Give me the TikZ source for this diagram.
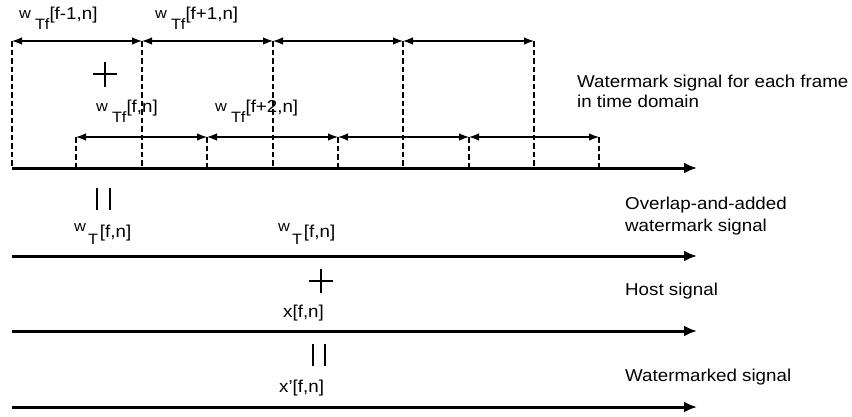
\documentclass[tikz,border=0pt]{standalone}
\usepackage{fontspec}
\setmainfont{Liberation Sans}[FakeStretch=1.09]
\usetikzlibrary{arrows.meta}
\newcommand\wlab[2]{{\fontsize{15}{15}\selectfont w\kern4pt\raisebox{-11pt}{#1}}\raisebox{-1.5pt}{[#2]}}
\newcommand\wTlab[1]{{\fontsize{15}{15}\selectfont w\kern2pt\raisebox{-13pt}{T}}\kern2pt\raisebox{-6pt}{[#1]}}
\begin{document}
\begin{tikzpicture}[x=1pt,y=-1pt,
  dim/.style={line width=1.2pt, {Latex[length=10pt,width=7.5pt]}-{Latex[length=10pt,width=7.5pt]}},
  tick/.style={line width=1.1pt, dash pattern=on 5.5pt off 3pt},
  axis/.style={line width=3pt, -{Latex[length=13pt,width=11pt]}},
  lbl/.style={inner sep=0pt, anchor=base west, font=\fontsize{17.2}{20}\selectfont},
  sym/.style={line width=2.7pt}]
\useasboundingbox (0,0) rectangle (852,416);
% axes
\foreach \n/\y in {1/168,2/256,3/331,4/407}{
  \coordinate (s\n) at (12,\y);
  \coordinate (e\n) at (697,\y);
}
% top row ticks
\foreach \i/\x in {0/12,1/142,2/273,3/403,4/534}{
  \coordinate (a\i) at (\x,41);
  \coordinate (ab\i) at (\x,168);
  \draw[tick] (a\i) -- (ab\i);
}
% second row ticks
\foreach \i/\x in {0/76,1/207,2/338,3/469,4/599}{
  \coordinate (b\i) at (\x,137);
  \coordinate (bb\i) at (\x,168);
  \draw[tick] (b\i) -- (bb\i);
}
\draw[dim] (a0) -- (a1);
\draw[dim] (a1) -- (a2);
\draw[dim] (a2) -- (a3);
\draw[dim] (a3) -- (a4);
\draw[dim] (b0) -- (b1);
\draw[dim] (b1) -- (b2);
\draw[dim] (b2) -- (b3);
\draw[dim] (b3) -- (b4);
\foreach \n in {1,2,3,4}{ \draw[axis] (s\n) -- (e\n); }
% labels
\node[lbl] (l1) at (19,18) {\wlab{Tf}{f-1,n}};
\node[lbl] (l2) at (155,18) {\wlab{Tf}{f+1,n}};
\node[lbl] (l3) at (96,111) {\wlab{Tf}{f,n}};
\node[lbl] (l4) at (215,111) {\wlab{Tf}{f+2,n}};
\node[lbl] (wt1) at (74,231) {\wTlab{f,n}};
\node[lbl] (wt2) at (278,231) {\wTlab{f,n}};
\node[lbl] (x1) at (283,317) {x[f,n]};
\node[lbl] (x2) at (279,392) {x’[f,n]};
% operators
\draw[sym] (93,74) -- (117,74) (105,62) -- (105,87);
\draw[sym] (309,281) -- (333,281) (321,269) -- (321,293);
\draw[sym] (97,188) -- (97,210) (110,188) -- (110,210);
\draw[sym] (313,344) -- (313,366) (325,344) -- (325,366);
% descriptions (base anchor = last line)
\node[lbl, align=left] (t1) at (577,107) {Watermark signal for each frame\\in time domain};
\node[lbl, align=left] (t2) at (625,231) {Overlap-and-added\\[1.5pt]watermark signal};
\node[lbl] (t3) at (625,295) {Host signal};
\node[lbl] (t4) at (625,381) {Watermarked signal};
\end{tikzpicture}
\end{document}
